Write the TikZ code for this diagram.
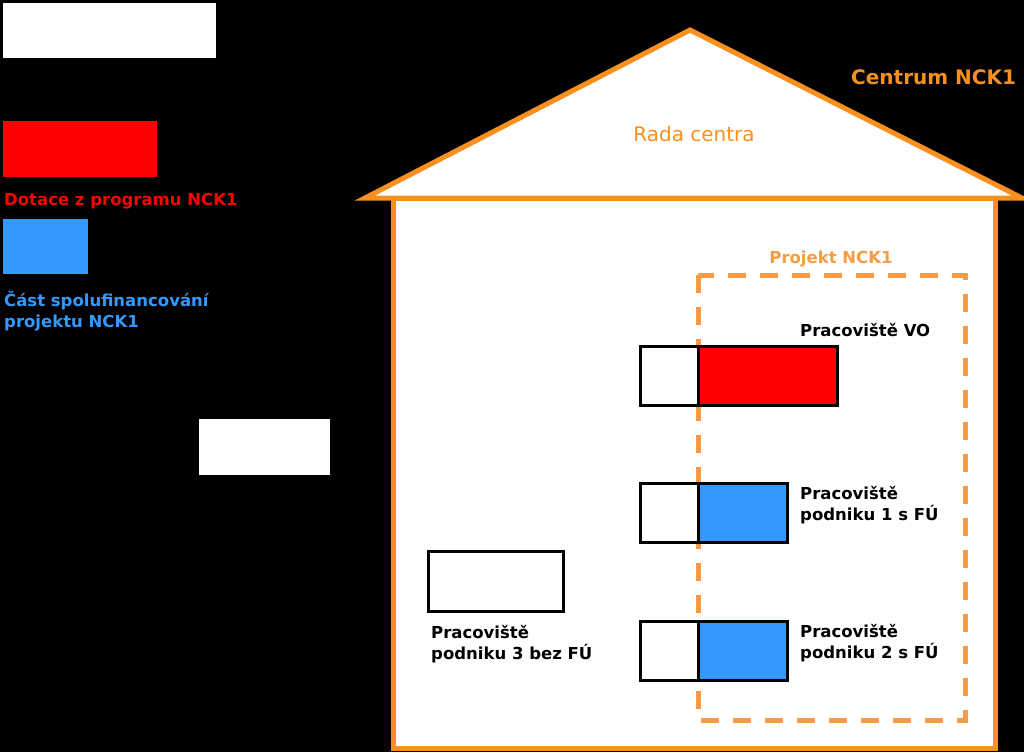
\documentclass[tikz,border=0pt]{standalone}
\usepackage{fontspec}
\setmainfont{DejaVu Sans}
\definecolor{houseor}{HTML}{F7901E}
\definecolor{projor}{HTML}{F89C44}
\definecolor{fundred}{HTML}{FF0000}
\definecolor{fundblue}{HTML}{3399FF}
\tikzset{
  blk/.style={draw=black, line width=3pt},
  lbl/.style={inner sep=0pt, font=\fontsize{16.5}{21}\selectfont\bfseries, align=left},
}
\begin{document}
\begin{tikzpicture}[x=1pt,y=-1pt]
\fill[black] (0,0) rectangle (1024,752);
\useasboundingbox (0,0) rectangle (1024,752);
% legend
\node[fill=white, minimum width=213pt, minimum height=55pt, inner sep=0pt, anchor=north west] (wtop) at (3,3) {};
\node[fill=fundred, minimum width=154pt, minimum height=56pt, inner sep=0pt, anchor=north west] (lred) at (3,121) {};
\node[lbl, text=fundred, anchor=base west] (tred) at (4,205) {Dotace z programu NCK1};
\node[fill=fundblue, minimum width=85pt, minimum height=55pt, inner sep=0pt, anchor=north west] (lblue) at (3,219) {};
\node[lbl, text=fundblue, anchor=base west] (tblue) at (4,327) {Část spolufinancování\\projektu NCK1};
\node[fill=white, minimum width=131pt, minimum height=56pt, inner sep=0pt, anchor=north west] (wmid) at (199,419) {};
% house
\draw[houseor, fill=white, line width=5pt] (393,198) rectangle (995,748);
\draw[houseor, fill=white, line width=5pt, line join=miter] (365,198) -- (690,30) -- (1022,198) -- cycle;
\node[lbl, text=houseor, font=\fontsize{20}{24}\selectfont\bfseries, anchor=base west] (centrum) at (851,84) {Centrum NCK1};
\node[inner sep=0pt, text=houseor, font=\fontsize{20}{24}\selectfont, anchor=base] (rada) at (694,141) {Rada centra};
% project
\draw[projor, line width=5pt, dash pattern=on 18pt off 14pt] (698,275) rectangle (965,720);
\node[lbl, text=projor, anchor=base] (projekt) at (831,263) {Projekt NCK1};
% workplaces
\draw[blk, fill=white] (640,346) rectangle (698,405);
\draw[blk, fill=fundred] (698,346) rectangle (837,405);
\node[lbl, anchor=base west] (tvo) at (800,336) {Pracoviště VO};
\draw[blk, fill=white] (640,483) rectangle (698,542);
\draw[blk, fill=fundblue] (698,483) rectangle (787,542);
\node[lbl, anchor=base west] (t1) at (800,520) {Pracoviště\\podniku 1 s FÚ};
\draw[blk, fill=white] (640,621) rectangle (698,680);
\draw[blk, fill=fundblue] (698,621) rectangle (787,680);
\node[lbl, anchor=base west] (t2) at (800,658) {Pracoviště\\podniku 2 s FÚ};
\draw[blk, fill=white] (428,551) rectangle (563,611);
\node[lbl, anchor=base west] (t3) at (431,659) {Pracoviště\\podniku 3 bez FÚ};
\end{tikzpicture}
\end{document}
